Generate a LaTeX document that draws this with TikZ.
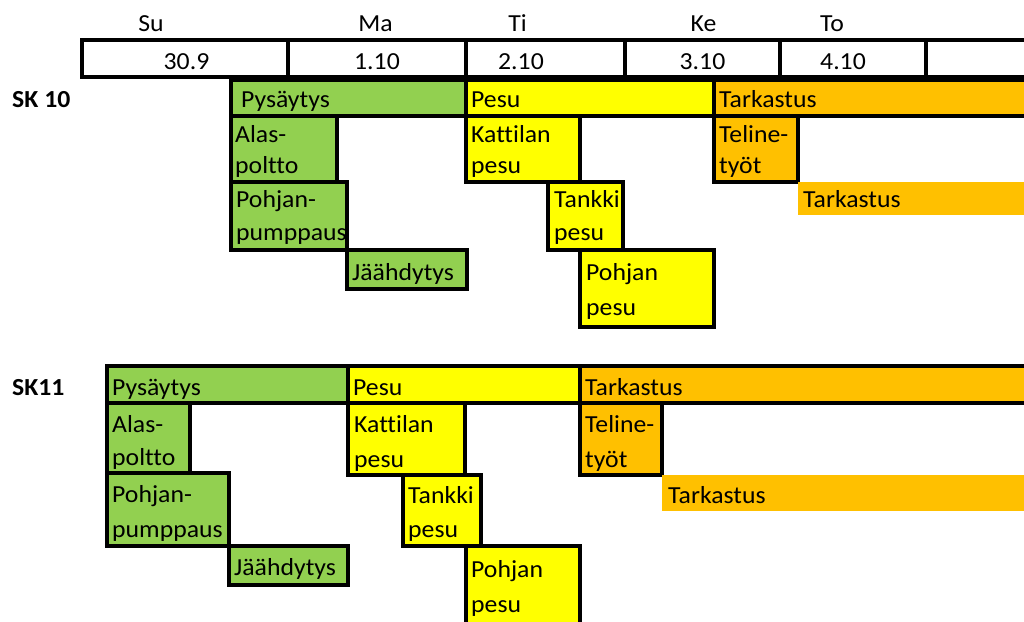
\documentclass[tikz,border=0pt]{standalone}
\usepackage{fontspec}
\setmainfont{Carlito}[FakeStretch=1.05,Ligatures=NoCommon]
\definecolor{stopgreen}{HTML}{92D050}
\definecolor{washyellow}{HTML}{FFFF00}
\definecolor{checkorange}{HTML}{FFC000}
\tikzset{
  chart/.style={x=1pt,y=-1pt},
  frame/.style={draw=black,line width=3.5pt},
  stopbox/.style={frame,fill=stopgreen},
  washbox/.style={frame,fill=washyellow},
  checkbox/.style={frame,fill=checkorange},
  plaincheck/.style={fill=checkorange},
  lbl/.style={anchor=base west,inner sep=0pt,font=\fontsize{24.5}{30}\selectfont},
  hdr/.style={anchor=base,inner sep=0pt,font=\fontsize{24.5}{30}\selectfont},
  unit/.style={anchor=base west,inner sep=0pt,font=\fontsize{24.5}{30}\selectfont\bfseries}
}
\begin{document}
\begin{tikzpicture}[chart]
\useasboundingbox (0,0) rectangle (1024,621);
\clip (0,0) rectangle (1024,621);
\fill[white] (0,0) rectangle (1024,621);

% weekdays and dates
\node[hdr] (su) at (151,31) {Su};
\node[hdr] (ma) at (375.5,31) {Ma};
\node[hdr] (ti) at (517.5,31) {Ti};
\node[hdr] (ke) at (703.5,31) {Ke};
\node[hdr] (to) at (832,31) {To};
\draw[frame] (1040,40) -- (82,40) -- (82,77) -- (1040,77);
\foreach \xx in {288,466,625,780,926} \draw[frame] (\xx,40) -- (\xx,77);
\node[hdr] (d1) at (186.5,69) {30.9};
\node[hdr] (d2) at (377,69) {1.10};
\node[hdr] (d3) at (521,69) {2.10};
\node[hdr] (d4) at (702.5,69) {3.10};
\node[hdr] (d5) at (843,69) {4.10};

% ---------------- SK 10 ----------------
\node[unit] (sk10) at (12,107) {SK 10};
\filldraw[stopbox] (231,80) rectangle (466,116);
\filldraw[washbox] (466,80) rectangle (714,116);
\filldraw[checkbox] (714,80) rectangle (1040,116);
\filldraw[stopbox] (231,116) rectangle (337,182);
\filldraw[stopbox] (231,182) rectangle (347,250);
\filldraw[stopbox] (347,250) rectangle (467,289);
\filldraw[washbox] (466,116) rectangle (580,182);
\filldraw[washbox] (548,182) rectangle (623,250);
\filldraw[washbox] (580,250) rectangle (714,327);
\filldraw[checkbox] (714,116) rectangle (798,182);
\fill[plaincheck] (798,182) rectangle (1040,215);

\node[lbl] (a1) at (241,107) {Pysäytys};
\node[lbl] (a2) at (471,107) {Pesu};
\node[lbl] (a3) at (719,107) {Tarkastus};
\node[lbl] (a4) at (235,142) {Alas-};
\node[lbl] (a5) at (235,173) {poltto};
\node[lbl] (a6) at (236,207) {Pohjan-};
\node[lbl] (a7) at (236,240) {pumppaus};
\node[lbl] (a8) at (352,280) {Jäähdytys};
\node[lbl] (a9) at (471,142) {Kattilan};
\node[lbl] (a10) at (471,173) {pesu};
\node[lbl] (a11) at (554,207) {Tankki};
\node[lbl] (a12) at (554,240) {pesu};
\node[lbl] (a13) at (586,280) {Pohjan};
\node[lbl] (a14) at (586,315) {pesu};
\node[lbl] (a15) at (719,142) {Teline-};
\node[lbl] (a16) at (719,173) {työt};
\node[lbl] (a17) at (803,207) {Tarkastus};

% ---------------- SK11 ----------------
\node[unit] (sk11) at (12,395) {SK11};
\filldraw[stopbox] (107,366) rectangle (348,403);
\filldraw[washbox] (348,366) rectangle (580,403);
\filldraw[checkbox] (580,366) rectangle (1040,403);
\filldraw[stopbox] (107,403) rectangle (190,473);
\filldraw[stopbox] (107,473) rectangle (229,546);
\filldraw[stopbox] (229,546) rectangle (348,585);
\filldraw[washbox] (348,403) rectangle (465,475);
\filldraw[washbox] (403,475) rectangle (481,546);
\filldraw[washbox] (466,546) rectangle (580,640);
\filldraw[checkbox] (580,403) rectangle (662,475);
\fill[plaincheck] (662,475) rectangle (1040,511);

\node[lbl] (b1) at (112,395) {Pysäytys};
\node[lbl] (b2) at (353,395) {Pesu};
\node[lbl] (b3) at (585,395) {Tarkastus};
\node[lbl] (b4) at (112,432) {Alas-};
\node[lbl] (b5) at (112,465) {poltto};
\node[lbl] (b6) at (112,502) {Pohjan-};
\node[lbl] (b7) at (112,537) {pumppaus};
\node[lbl] (b8) at (234,575) {Jäähdytys};
\node[lbl] (b9) at (354,432) {Kattilan};
\node[lbl] (b10) at (354,467) {pesu};
\node[lbl] (b11) at (408,503) {Tankki};
\node[lbl] (b12) at (408,537) {pesu};
\node[lbl] (b13) at (471,577) {Pohjan};
\node[lbl] (b14) at (471,612) {pesu};
\node[lbl] (b15) at (585,432) {Teline-};
\node[lbl] (b16) at (585,467) {työt};
\node[lbl] (b17) at (668,503) {Tarkastus};
\end{tikzpicture}
\end{document}
